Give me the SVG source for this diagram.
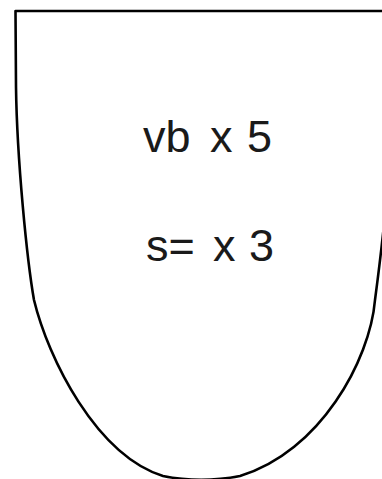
<svg xmlns="http://www.w3.org/2000/svg" width="382" height="479" viewBox="0 0 382 479">
<style>
.outline{fill:none;stroke:#000;stroke-width:2.6;stroke-linejoin:round;stroke-linecap:round}
.lbl{font-family:"Liberation Sans",Arial,sans-serif;font-size:45px;fill:#1a1a1a}
</style>
<rect width="382" height="479" fill="#fff"/>
<g id="vessel">
<path class="outline" d="M 390,11 L 15.5,11 L 16,87 C 17,160 27,260 34,300 C 48,358 96,455 163,476 C 188,481 214,481 240,476 C 320,452 370,360 375,300 C 379,270 382,245 385,215"/>
</g>
<g id="labels">
<text class="lbl" y="152"><tspan x="143">vb</tspan> <tspan x="210">x</tspan> <tspan x="247">5</tspan></text>
<text class="lbl" y="261"><tspan x="146">s=</tspan> <tspan x="213">x</tspan> <tspan x="249">3</tspan></text>
</g>
</svg>
